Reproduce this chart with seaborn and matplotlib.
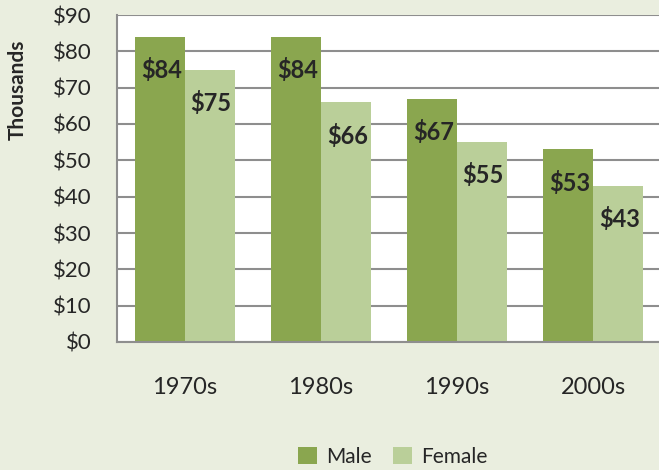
import pandas as pd
import numpy as np
import matplotlib
matplotlib.use("Agg")
import matplotlib.pyplot as plt
import seaborn as sns

# values (thousands of dollars)
decades = ["1970s", "1980s", "1990s", "2000s"]
male = [84, 84, 67, 53]
female = [75, 66, 55, 43]
series = ["Male", "Female"]
yticks = [0, 10, 20, 30, 40, 50, 60, 70, 80, 90]

df = pd.DataFrame({
    "decade": decades * 2,
    "income": male + female,
    "sex": ["Male"] * len(decades) + ["Female"] * len(decades),
})

sns.set_style("white")
plt.rcParams["font.family"] = ["Lato", "DejaVu Sans"]

bg = "#EAEEDF"
grid_col = "#8E8E8E"
colors = ["#8AA64F", "#BACF99"]

fig = plt.figure(figsize=(6.59, 4.70), dpi=100, facecolor=bg)
ax = fig.add_axes([117 / 659, 128 / 470, 544 / 659, 327 / 470])
ax.set_facecolor("white")

sns.barplot(data=df, x="decade", y="income", hue="sex", hue_order=series,
            palette=colors, saturation=1, width=0.73, ax=ax, errorbar=None,
            linewidth=0, edgecolor="none")

ax.set_xlim(-0.5, len(decades) - 0.5)
ax.set_ylim(0, 90)
ax.set_yticks(yticks)
ax.set_yticklabels([f"${v}" for v in yticks])
ax.set_xlabel("")
ax.set_ylabel("")

ax.yaxis.grid(True, color=grid_col, lw=1.5)
ax.set_axisbelow(True)
for s in ["top", "right"]:
    ax.spines[s].set_visible(False)
for s in ["left", "bottom"]:
    ax.spines[s].set_color(grid_col)
    ax.spines[s].set_linewidth(1.5)

ax.tick_params(axis="y", length=5, width=1.5, color=grid_col, pad=13, labelsize=16)
ax.tick_params(axis="x", which="major", length=0, pad=25, labelsize=17)
ax.set_xticks(np.arange(len(decades)) - 0.5, minor=True)
ax.tick_params(axis="x", which="minor", length=7, width=1.5, color=grid_col)

# value labels inside the bar tops
for cont, vals in zip(ax.containers, [male, female]):
    for bar, v in zip(cont, vals):
        ax.annotate(f"${v}", (bar.get_x() + bar.get_width() / 2, bar.get_height()),
                    xytext=(1, -24), textcoords="offset points",
                    ha="center", va="center", fontsize=17, fontweight="bold")

fig.text(18 / 659, 1 - 90 / 470, "Thousands", rotation=90, ha="center",
         va="center", fontsize=15, fontweight="bold")

ax.get_legend().remove()
handles, labels = ax.get_legend_handles_labels()
fig.legend(handles, labels, loc="center", ncol=2, frameon=False,
           bbox_to_anchor=(393 / 659, 1 - 457 / 470), bbox_transform=fig.transFigure,
           fontsize=15, handlelength=0.9, handleheight=0.9, handletextpad=0.45,
           columnspacing=1.0)

fig.savefig("out.png", dpi=100, facecolor=bg)
